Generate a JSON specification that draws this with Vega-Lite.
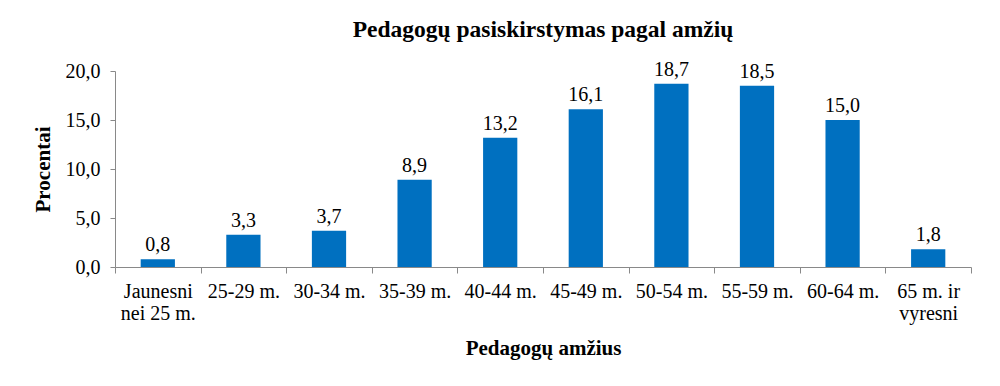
{
  "$schema": "https://vega.github.io/schema/vega-lite/v6.json",
  "width": 856,
  "height": 196,
  "autosize": {"type": "none"},
  "padding": {"left": 115, "top": 71, "right": 29, "bottom": 119},
  "background": "white",
  "title": {
    "text": "Pedagogų pasiskirstymas pagal amžių",
    "font": "Liberation Serif, Times New Roman, serif",
    "fontSize": 23.5,
    "fontWeight": "bold",
    "color": "#000000",
    "anchor": "middle",
    "offset": 18
  },
  "config": {
    "view": {"stroke": null},
    "font": "Liberation Serif, Times New Roman, serif",
    "locale": {"number": {"decimal": ",", "thousands": " ", "grouping": [3], "currency": ["", " €"]}}
  },
  "data": {
    "values": [
      {"amzius": "Jaunesni nei 25 m.", "procentai": 0.8},
      {"amzius": "25-29 m.", "procentai": 3.3},
      {"amzius": "30-34 m.", "procentai": 3.7},
      {"amzius": "35-39 m.", "procentai": 8.9},
      {"amzius": "40-44 m.", "procentai": 13.2},
      {"amzius": "45-49 m.", "procentai": 16.1},
      {"amzius": "50-54 m.", "procentai": 18.7},
      {"amzius": "55-59 m.", "procentai": 18.5},
      {"amzius": "60-64 m.", "procentai": 15.0},
      {"amzius": "65 m. ir vyresni", "procentai": 1.8}
    ]
  },
  "encoding": {
    "x": {
      "field": "amzius",
      "type": "nominal",
      "sort": null,
      "scale": {"paddingInner": 0, "paddingOuter": 0},
      "axis": {
        "title": "Pedagogų amžius",
        "titleFont": "Liberation Serif, Times New Roman, serif",
        "titleFontSize": 21,
        "titleFontWeight": "bold",
        "titleColor": "#000000",
        "titlePadding": 14,
        "labelFont": "Liberation Serif, Times New Roman, serif",
        "labelFontSize": 20,
        "labelColor": "#000000",
        "labelAngle": 0,
        "labelPadding": 8,
        "labelLineHeight": 22,
        "labelExpr": "datum.label == 'Jaunesni nei 25 m.' ? ['Jaunesni', 'nei 25 m.'] : datum.label == '65 m. ir vyresni' ? ['65 m. ir', 'vyresni'] : datum.label",
        "tickBand": "extent",
        "tickSize": 6,
        "tickColor": "#898989",
        "domainColor": "#898989",
        "labelOverlap": false
      }
    },
    "y": {
      "field": "procentai",
      "type": "quantitative",
      "scale": {"domain": [0, 20]},
      "axis": {
        "title": "Procentai",
        "titleFont": "Liberation Serif, Times New Roman, serif",
        "titleFontSize": 21,
        "titleFontWeight": "bold",
        "titleColor": "#000000",
        "titlePadding": 12,
        "values": [0, 5, 10, 15, 20],
        "format": ".1f",
        "labelFont": "Liberation Serif, Times New Roman, serif",
        "labelFontSize": 20,
        "labelColor": "#000000",
        "labelPadding": 10,
        "tickSize": 5,
        "tickColor": "#898989",
        "domainColor": "#898989",
        "grid": false
      }
    }
  },
  "layer": [
    {
      "mark": {"type": "bar", "color": "#0070C0", "width": {"band": 0.4}}
    },
    {
      "mark": {"type": "text", "dy": -14, "font": "Liberation Serif, Times New Roman, serif", "fontSize": 20, "color": "#000000"},
      "encoding": {
        "text": {"field": "procentai", "type": "quantitative", "format": ".1f"}
      }
    }
  ]
}
